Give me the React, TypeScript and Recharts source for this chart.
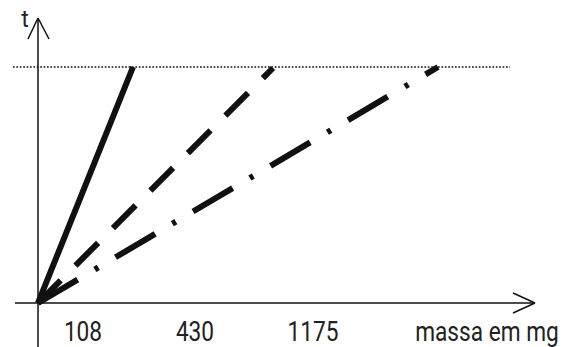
import { LineChart, Line, XAxis, YAxis, ReferenceLine, ReferenceDot } from 'recharts'

// values in chart units (origin at the crossing of the axes)
const solidLine = [
  { x: 0, y: 0 },
  { x: 95, y: 236 },
]
const dashedLine = [
  { x: 0, y: 0 },
  { x: 235, y: 235 },
]
const dashDotLine = [
  { x: 0, y: 0 },
  { x: 400, y: 236 },
]

const tickValues = [45, 157, 275, 449]
const tickLabels = ['108', '430', '1175', 'massa em mg']
const levelT = 236

const FONT = '"Liberation Sans Narrow", "Roboto", "Liberation Sans", sans-serif'
const INK = '#111'

// the reference uses a condensed face, so squeeze the text horizontally
const renderTick = (props: any) => {
  const { x, y, payload, index } = props
  return (
    <g key={`t-${index}`} transform={`translate(${x},${y + 38}) scale(0.84,1)`}>
      <text x={0} y={0} textAnchor="middle" fontFamily={FONT} fontSize={27} fill="#222">
        {tickLabels[tickValues.indexOf(payload.value)]}
      </text>
    </g>
  )
}

const App = () => {
  return (
    <div style={{ position: 'absolute', left: 0, top: 0, background: '#fff' }}>
      <LineChart width={578} height={347} margin={{ top: 18, right: 40, left: 38, bottom: 0 }}>
        <XAxis
          type="number"
          dataKey="x"
          domain={[0, 500]}
          ticks={tickValues}
          tick={renderTick}
          tickLine={false}
          axisLine={false}
          tickSize={0}
          tickMargin={0}
          height={44}
          interval={0}
        />
        <YAxis type="number" dataKey="y" domain={[0, 285]} hide />

        {/* axes with arrows */}
        <ReferenceLine segment={[{ x: -23, y: 0 }, { x: 497, y: 0 }]} stroke={INK} strokeWidth={1.5} ifOverflow="visible" />
        <ReferenceLine segment={[{ x: 475, y: 10 }, { x: 497, y: 0 }]} stroke={INK} strokeWidth={1.5} ifOverflow="visible" />
        <ReferenceLine segment={[{ x: 475, y: -10 }, { x: 497, y: 0 }]} stroke={INK} strokeWidth={1.5} ifOverflow="visible" />
        <ReferenceLine segment={[{ x: 0, y: -44 }, { x: 0, y: 285 }]} stroke={INK} strokeWidth={1.5} ifOverflow="visible" />
        <ReferenceLine segment={[{ x: -10, y: 264 }, { x: 0, y: 285 }]} stroke={INK} strokeWidth={1.5} ifOverflow="visible" />
        <ReferenceLine segment={[{ x: 11, y: 264 }, { x: 0, y: 285 }]} stroke={INK} strokeWidth={1.5} ifOverflow="visible" />

        {/* dotted level */}
        <ReferenceLine
          segment={[{ x: -25, y: levelT }, { x: 472, y: levelT }]}
          stroke={INK}
          strokeWidth={1.5}
          strokeDasharray="1.7 1.7"
          ifOverflow="visible"
        />

        <ReferenceDot
          x={-13}
          y={284}
          r={0}
          ifOverflow="visible"
          label={{ value: 't', position: 'center', fontFamily: FONT, fontSize: 23, fill: '#222' }}
        />

        <Line data={solidLine} dataKey="y" type="linear" stroke={INK} strokeWidth={6} dot={false} isAnimationActive={false} />
        <Line data={dashedLine} dataKey="y" type="linear" stroke={INK} strokeWidth={6} strokeDasharray="32 21" dot={false} isAnimationActive={false} />
        <Line data={dashDotLine} dataKey="y" type="linear" stroke={INK} strokeWidth={6} strokeDasharray="46 20 4 20" dot={false} isAnimationActive={false} />
      </LineChart>
    </div>
  )
}

export default App
